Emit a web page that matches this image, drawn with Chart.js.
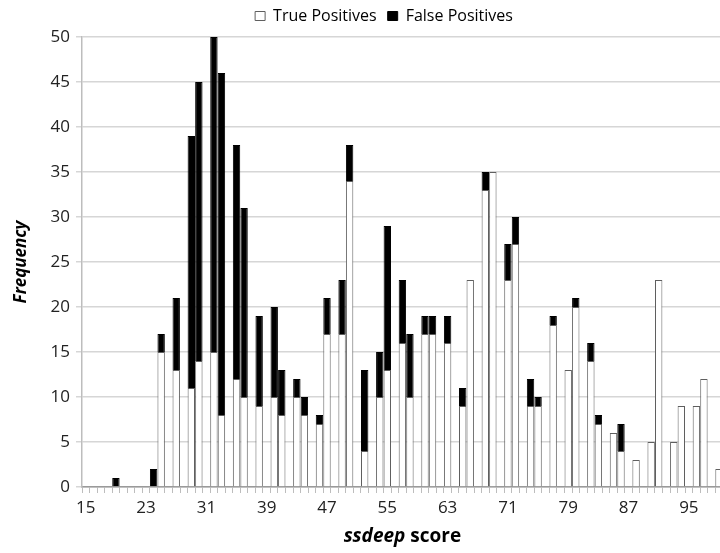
<!DOCTYPE html>
<html>
<head>
<meta charset="utf-8">
<script src="https://cdn.jsdelivr.net/npm/chart.js@4/dist/chart.umd.min.js"></script>
<style>
  html, body { margin: 0; padding: 0; background: #fff; overflow: hidden; }
  #wrap { width: 724px; height: 553px; }
</style>
</head>
<body>
<div id="wrap"><canvas id="c" width="724" height="553"></canvas></div>
<script>
// ssdeep score categories 15..99
const scores = [15,16,17,18,19,20,21,22,23,24,25,26,27,28,29,30,31,32,33,34,35,36,37,38,39,40,41,42,43,44,45,46,47,48,49,50,51,52,53,54,55,56,57,58,59,60,61,62,63,64,65,66,67,68,69,70,71,72,73,74,75,76,77,78,79,80,81,82,83,84,85,86,87,88,89,90,91,92,93,94,95,96,97,98,99];
const truePositives = [0,0,0,0,0,0,0,0,0,0,15,0,13,0,11,14,0,15,8,0,12,10,0,9,0,10,8,0,10,8,0,7,17,0,17,34,0,4,0,10,13,0,16,10,0,17,17,0,16,0,9,23,0,33,35,0,23,27,0,9,9,0,18,0,13,20,0,14,7,0,6,4,0,3,0,5,23,0,5,9,0,9,12,0,2];
const falsePositives = [0,0,0,0,1,0,0,0,0,2,2,0,8,0,28,31,0,35,38,0,26,21,0,10,0,10,5,0,2,2,0,1,4,0,6,4,0,9,0,5,16,0,7,7,0,2,2,0,3,0,2,0,0,2,0,0,4,3,0,3,1,0,1,0,0,1,0,2,1,0,0,3,0,0,0,0,0,0,0,0,0,0,0,0,0];
const yTicks = [0,5,10,15,20,25,30,35,40,45,50];
const labelEvery = 8;

const FONT = "'Open Sans', 'Liberation Sans', sans-serif";

const xTitlePlugin = {
  id: 'xTitle',
  afterDraw(chart) {
    const ctx = chart.ctx;
    const a = chart.chartArea;
    const cx = (a.left + a.right) / 2;
    const y = 537;
    ctx.save();
    ctx.fillStyle = '#000';
    ctx.textBaseline = 'middle';
    const f1 = "italic bold 19px " + FONT;
    const f2 = "bold 19px " + FONT;
    ctx.font = f1; const w1 = ctx.measureText('ssdeep').width;
    ctx.font = f2; const w2 = ctx.measureText(' score').width;
    const x = cx - (w1 + w2) / 2;
    ctx.textAlign = 'left';
    ctx.font = f1; ctx.fillText('ssdeep', x, y);
    ctx.font = f2; ctx.fillText(' score', x + w1, y);
    ctx.restore();
  }
};

// nudge the library legend to where it sits in the reference
const legendShift = {
  id: 'legendShift',
  afterLayout(chart) {
    if (chart.legend) {
      chart.legend.left += 22;
      chart.legend.right += 22;
      chart.legend.top -= 3;
      chart.legend.bottom -= 3;
    }
  }
};

const toBar = arr => arr.map(v => (v === 0 ? null : v));

new Chart(document.getElementById('c'), {
  type: 'bar',
  data: {
    labels: scores.map(String),
    datasets: [
      {
        label: 'True Positives',
        data: toBar(truePositives),
        backgroundColor: '#ffffff',
        borderColor: '#5f5f5f',
        borderWidth: 1,
        barPercentage: 0.98,
        categoryPercentage: 1.0
      },
      {
        label: 'False Positives',
        data: toBar(falsePositives),
        backgroundColor: '#000000',
        borderColor: '#000000',
        borderWidth: 1,
        barPercentage: 0.98,
        categoryPercentage: 1.0
      }
    ]
  },
  options: {
    responsive: false,
    animation: false,
    devicePixelRatio: 1,
    layout: { padding: { left: 0, right: 0, top: 0, bottom: 0 } },
    plugins: {
      legend: {
        display: true,
        position: 'top',
        labels: {
          boxWidth: 10,
          boxHeight: 9,
          padding: 11,
          color: '#000',
          font: { family: FONT, size: 16 }
        }
      },
      tooltip: { enabled: false }
    },
    scales: {
      x: {
        stacked: true,
        afterFit(s) { s.height = 66; },
        grid: {
          display: true,
          drawOnChartArea: false,
          drawTicks: true,
          tickLength: 6,
          color: '#bdbdbd',
          lineWidth: 1
        },
        border: { display: true, color: '#9a9a9a', width: 1.5 },
        ticks: {
          autoSkip: false,
          maxRotation: 0,
          minRotation: 0,
          padding: 5,
          color: '#222',
          font: { family: FONT, size: 17 },
          callback(val, idx) { return idx % labelEvery === 0 ? scores[idx] : ''; }
        }
      },
      y: {
        stacked: true,
        min: 0,
        max: 50,
        afterFit(s) { s.width = 82; },
        afterBuildTicks(s) { s.ticks = yTicks.map(v => ({ value: v })); },
        grid: {
          display: true,
          drawOnChartArea: true,
          drawTicks: true,
          tickLength: 6,
          color: '#d6d6d6',
          lineWidth: 1.5
        },
        border: { display: true, color: '#bdbdbd', width: 1.5 },
        ticks: {
          padding: 6,
          color: '#222',
          font: { family: FONT, size: 17 }
        },
        title: {
          display: true,
          text: 'Frequency',
          color: '#000',
          font: { family: FONT, size: 17, weight: 'bold', style: 'italic' },
          padding: { top: 11, bottom: 0 }
        }
      }
    }
  },
  plugins: [xTitlePlugin, legendShift]
});
</script>
</body>
</html>
